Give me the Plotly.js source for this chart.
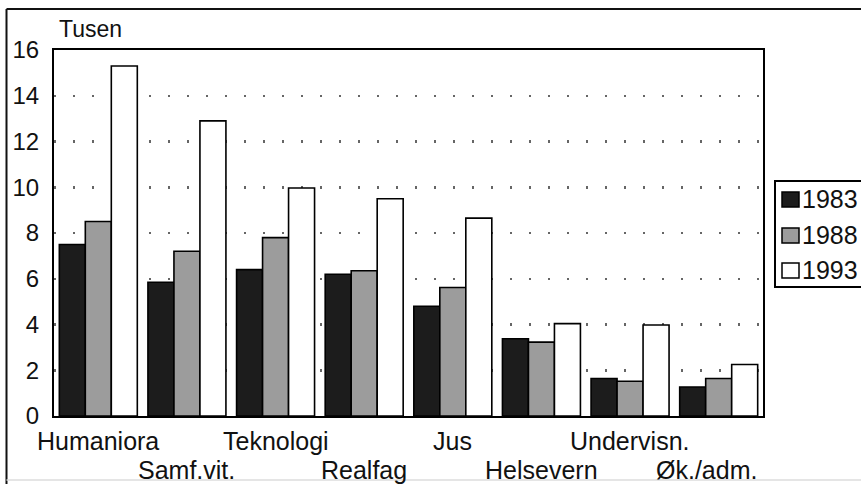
<!DOCTYPE html>
<html>
<head>
<meta charset="utf-8">
<script src="https://cdn.plot.ly/plotly-3.0.1.min.js"></script>
<style>html,body{margin:0;padding:0;background:#fff;}#chart{width:861px;height:484px;}</style>
</head>
<body>
<div id="chart"></div>
<script>
const categories = ["Humaniora", "Samf.vit.", "Teknologi", "Realfag", "Jus", "Helsevern", "Undervisn.", "Øk./adm."];
const years = ["1983", "1988", "1993"];
const values1983 = [7.5, 5.85, 6.4, 6.2, 4.8, 3.38, 1.64, 1.27];
const values1988 = [8.5, 7.2, 7.8, 6.35, 5.62, 3.23, 1.52, 1.64];
const values1993 = [15.3, 12.9, 9.97, 9.5, 8.65, 4.04, 3.98, 2.25];
const yTicks = [0, 2, 4, 6, 8, 10, 12, 14, 16];
const yUnit = "Tusen";

const seriesValues = [values1983, values1988, values1993];
const fills = ["#1c1c1c", "#9c9c9c", "#ffffff"];
const FONT = "Liberation Sans, Arial, sans-serif";

// plot area geometry (px) used to place legend/frame in paper coords
const L = 54, R = 98, T = 50, B = 68, W = 861, H = 484;
const pw = W - L - R, ph = H - T - B;
const px = v => (v - L) / pw;
const py = v => (H - B - v) / ph;

const traces = years.map((y, i) => ({
  type: "bar",
  name: y,
  x: categories,
  y: seriesValues[i],
  marker: {color: fills[i], line: {color: "#000", width: 1.6}},
  hoverinfo: "skip",
  showlegend: false
}));

const annotations = categories.map((c, i) => ({
  x: c, xref: "x",
  y: i % 2 === 0 ? py(441) : py(470), yref: "paper",
  text: c, showarrow: false,
  xanchor: "center", yanchor: "middle",
  xshift: i === categories.length - 1 ? -12 : 0,
  font: {family: FONT, size: 25, color: "#111"}
}));
annotations.push({
  x: px(57), xref: "paper", y: py(29), yref: "paper",
  text: yUnit, showarrow: false, xanchor: "left", yanchor: "middle",
  font: {family: FONT, size: 23, color: "#111"}
});

// legend drawn as box + swatches + labels
const legendRows = [199, 235, 270];
const shapes = [
  {type: "rect", xref: "paper", yref: "paper", x0: px(775), x1: px(875), y0: py(287), y1: py(181),
   line: {color: "#000", width: 2}, fillcolor: "#fff", layer: "above"}
];
years.forEach((y, i) => {
  const cy = legendRows[i];
  shapes.push({type: "rect", xref: "paper", yref: "paper", x0: px(782), x1: px(799), y0: py(cy + 8), y1: py(cy - 7),
    line: {color: "#000", width: 1.5}, fillcolor: fills[i], layer: "above"});
  annotations.push({x: px(800), xref: "paper", y: py(cy), yref: "paper", text: y, showarrow: false,
    xanchor: "left", yanchor: "middle", font: {family: FONT, size: 25, color: "#111"}});
});
// outer frame
shapes.push(
  {type: "line", xref: "paper", yref: "paper", x0: px(6.5), x1: px(6.5), y0: py(490), y1: py(9), line: {color: "#111", width: 2}},
  {type: "line", xref: "paper", yref: "paper", x0: px(6.5), x1: px(900), y0: py(9), y1: py(9), line: {color: "#111", width: 2}},
  {type: "line", xref: "paper", yref: "paper", x0: px(6.5), x1: px(900), y0: py(480), y1: py(480), line: {color: "#ddd", width: 1.5}}
);

const layout = {
  width: W, height: H,
  margin: {l: L, r: R, t: T, b: B, autoexpand: false},
  paper_bgcolor: "#fff", plot_bgcolor: "#fff",
  barmode: "group", bargap: 0.12, bargroupgap: 0,
  font: {family: FONT, color: "#111"},
  xaxis: {
    type: "category", range: [-0.5, categories.length - 0.5],
    showticklabels: false, ticks: "",
    showline: true, linecolor: "#000", linewidth: 2, mirror: true,
    showgrid: false, zeroline: false
  },
  yaxis: {
    range: [0, 16], tickvals: yTicks, ticktext: yTicks.map(String),
    showline: true, linecolor: "#000", linewidth: 2, mirror: true,
    showgrid: true, gridcolor: "#666", gridwidth: 2.5, griddash: "2px,17px",
    zeroline: false, ticks: "", ticklabelstandoff: 8,
    tickfont: {family: FONT, size: 24, color: "#111"}
  },
  showlegend: false,
  annotations: annotations,
  shapes: shapes
};

Plotly.newPlot("chart", traces, layout, {displayModeBar: false, staticPlot: true});
</script>
</body>
</html>
